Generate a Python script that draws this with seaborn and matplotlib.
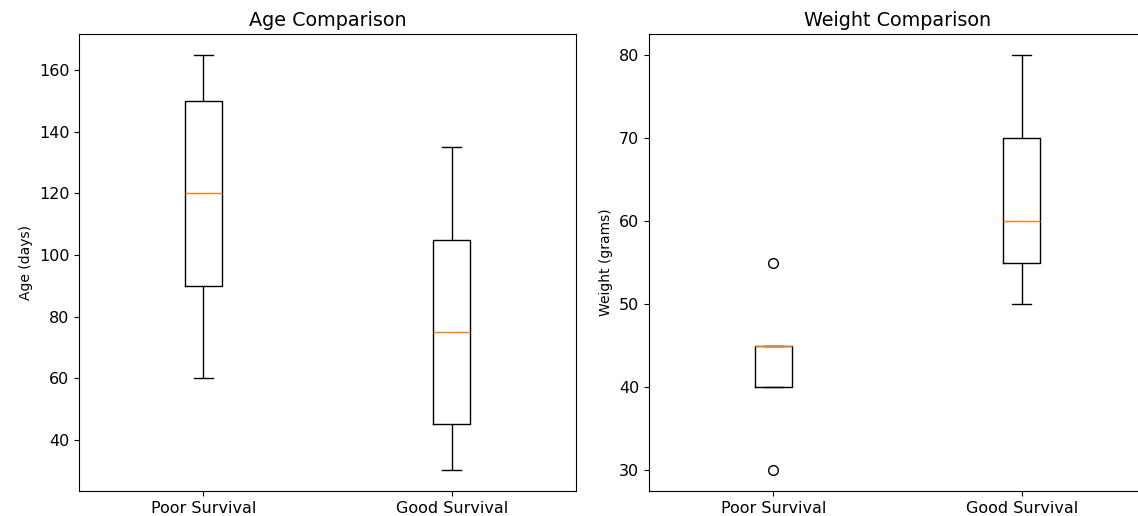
import pandas as pd
import matplotlib.pyplot as plt
import seaborn as sns

# --- Dados ---
GROUPS = ["Poor Survival", "Good Survival"]
age_poor = [60, 90, 90, 120, 150, 150, 165]
age_good = [30, 45, 45, 75, 105, 105, 135]
weight_poor = [30, 40, 40, 45, 45, 45, 55]
weight_good = [50, 55, 55, 60, 70, 70, 80]

df = pd.DataFrame({
    "group": [GROUPS[0]] * len(age_poor) + [GROUPS[1]] * len(age_good),
    "age": age_poor + age_good,
    "weight": weight_poor + weight_good,
})

box_style = dict(
    width=0.15,
    fill=False,
    color="black",
    linewidth=1,
    capwidths=0.075,
    boxprops=dict(color="black"),
    whiskerprops=dict(color="black"),
    capprops=dict(color="black"),
    medianprops=dict(color="#ff7f0e", linewidth=1),
    flierprops=dict(marker="o", markerfacecolor="none", markeredgecolor="black", markersize=7),
)

fig, axes = plt.subplots(1, 2, figsize=(11.38, 5.16))

sns.boxplot(data=df, x="group", y="age", order=GROUPS, ax=axes[0], **box_style)
axes[0].set_title("Age Comparison", fontsize=13.8)
axes[0].set_ylabel("Age (days)")
axes[0].set_xlabel("")

sns.boxplot(data=df, x="group", y="weight", order=GROUPS, ax=axes[1], **box_style)
axes[1].set_title("Weight Comparison", fontsize=13.8)
axes[1].set_ylabel("Weight (grams)")
axes[1].set_xlabel("")

for ax in axes:
    ax.set_xlim(-0.5, 1.5)
    ax.tick_params(axis="both", labelsize=11.5)

# a figura original está recortada à direita
plt.subplots_adjust(left=0.0694, right=1.007, top=0.934, bottom=0.048, wspace=0.147)
plt.savefig("out.png", dpi=100)
